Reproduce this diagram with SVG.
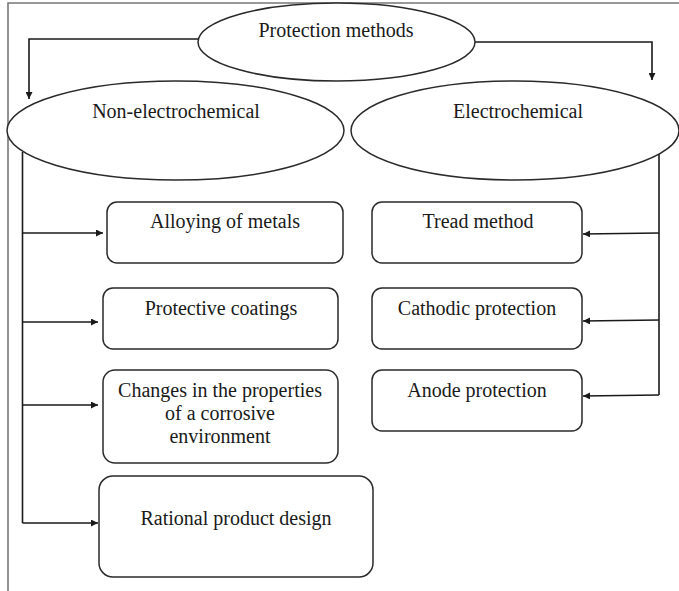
<svg xmlns="http://www.w3.org/2000/svg" width="679" height="591" viewBox="0 0 679 591">
<style>
text{font-family:'Liberation Serif','Times New Roman',Times,'DejaVu Serif',serif;font-size:20px;fill:#1a1a1a;text-anchor:middle}
.n{fill:#fff;stroke:#2a2a2a;stroke-width:1.5}
.c{fill:none;stroke:#1a1a1a;stroke-width:1.6}
.f{fill:none;stroke:#777;stroke-width:1.6}
</style>
<defs>
<marker id="ah" viewBox="0 0 10 10" refX="10" refY="5" markerWidth="9" markerHeight="7" markerUnits="userSpaceOnUse" orient="auto">
<path d="M0,0 L10,5 L0,10 z" fill="#1a1a1a"/>
</marker>
</defs>
<rect width="679" height="591" fill="#fff"/>
<g id="frame">
<path class="f" d="M8,591 V3 H679"/>
</g>
<g id="connectors">
<path class="c" d="M198,39 H29 V99" marker-end="url(#ah)"/>
<path class="c" d="M475,42 H652 V80" marker-end="url(#ah)"/>
<path class="c" d="M22.5,152 V523"/>
<path class="c" d="M22.5,233 H103" marker-end="url(#ah)"/>
<path class="c" d="M22.5,322 H98" marker-end="url(#ah)"/>
<path class="c" d="M22.5,405 H98" marker-end="url(#ah)"/>
<path class="c" d="M22.5,523 H98" marker-end="url(#ah)"/>
<path class="c" d="M659,153 V395"/>
<path class="c" d="M659,233 L583,234" marker-end="url(#ah)"/>
<path class="c" d="M659,320 L583,321" marker-end="url(#ah)"/>
<path class="c" d="M659,395 L583,396" marker-end="url(#ah)"/>
</g>
<g id="protection-methods">
<ellipse class="n" cx="336.5" cy="42" rx="138.5" ry="39"/>
<text x="336" y="37" font-family="Liberation Serif, serif">Protection methods</text>
</g>
<g id="non-electrochemical">
<ellipse class="n" cx="175.5" cy="130.5" rx="168.5" ry="49.5"/>
<text x="176" y="118" font-family="Liberation Serif, serif">Non-electrochemical</text>
</g>
<g id="electrochemical">
<ellipse class="n" cx="515" cy="130.5" rx="164" ry="49.5"/>
<text x="518" y="118" font-family="Liberation Serif, serif">Electrochemical</text>
</g>
<g id="alloying">
<rect class="n" x="107" y="202" width="236" height="61" rx="10"/>
<text x="225" y="228">Alloying of metals</text>
</g>
<g id="coatings">
<rect class="n" x="103" y="288" width="235" height="61" rx="10"/>
<text x="221" y="315">Protective coatings</text>
</g>
<g id="environment">
<rect class="n" x="103" y="370" width="235" height="93" rx="12"/>
<text x="220" y="397">Changes in the properties</text>
<text x="220" y="420">of a corrosive</text>
<text x="220" y="443">environment</text>
</g>
<g id="design">
<rect class="n" x="99" y="476" width="274" height="101" rx="14"/>
<text x="236" y="525">Rational product design</text>
</g>
<g id="tread">
<rect class="n" x="372" y="202" width="210" height="61" rx="10"/>
<text x="478" y="228">Tread method</text>
</g>
<g id="cathodic">
<rect class="n" x="372" y="288" width="210" height="61" rx="10"/>
<text x="477" y="315">Cathodic protection</text>
</g>
<g id="anode">
<rect class="n" x="372" y="370" width="210" height="61" rx="10"/>
<text x="477" y="397">Anode protection</text>
</g>
</svg>
